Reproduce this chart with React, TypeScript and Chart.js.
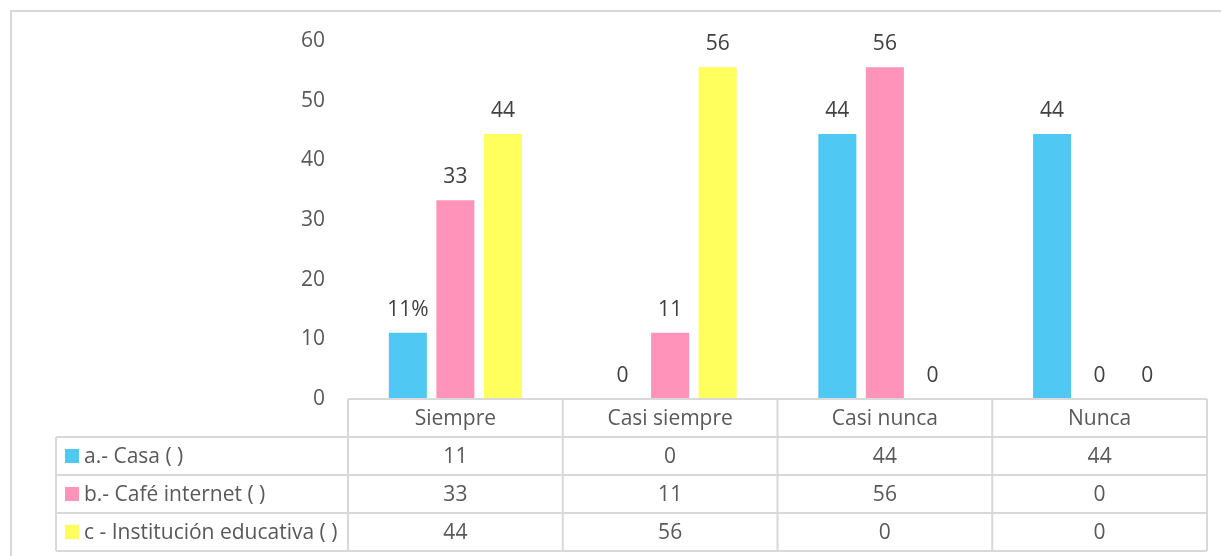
import React, { useEffect, useRef } from 'react';
import { Chart, registerables } from 'chart.js';

Chart.register(...registerables);

const categories = ['Siempre', 'Casi siempre', 'Casi nunca', 'Nunca'];
const seriesNames = ['a.- Casa ( )', 'b.- Café internet ( )', 'c - Institución educativa ( )'];
const casa = [11.1, 0, 44.4, 44.4];
const cafeInternet = [33.3, 11.1, 55.6, 0];
const institucion = [44.4, 55.6, 0, 0];
const seriesValues = [casa, cafeInternet, institucion];
const seriesColors = ['#4FC8F3', '#FF93B9', '#FFFF5E'];
const labelSuffixes = [
  ['%', '', '', ''],
  ['', '', '', ''],
  ['', '', '', ''],
];
const yMin = 0;
const yMax = 60;
const yStep = 10;

const FONT = "'Open Sans', sans-serif";
const FS = 21;
const GRID = '#D9D9D9';
const TEXT = '#595959';
const LABEL = '#404040';

const tablePlugin = {
  id: 'dataTable',
  beforeDraw(chart: any) {
    const { ctx, width, height } = chart;
    ctx.save();
    ctx.fillStyle = '#FFFFFF';
    ctx.fillRect(0, 0, width, height);
    ctx.strokeStyle = GRID;
    ctx.lineWidth = 2;
    ctx.beginPath();
    ctx.moveTo(11, height + 5);
    ctx.lineTo(11, 11);
    ctx.lineTo(width + 5, 11);
    ctx.stroke();
    ctx.restore();
  },
  afterDraw(chart: any) {
    const { ctx, chartArea } = chart;
    const left = chartArea.left;
    const right = chartArea.right;
    const top = chartArea.bottom;
    const rowH = 38;
    const labelLeft = 56;
    const n = categories.length;
    const colW = (right - left) / n;
    const tableBottom = top + rowH * (seriesNames.length + 1);
    const dy = Math.round(FS * 0.357);

    ctx.save();
    // data labels
    ctx.font = `${FS}px ${FONT}`;
    ctx.fillStyle = LABEL;
    ctx.textAlign = 'center';
    ctx.textBaseline = 'alphabetic';
    seriesValues.forEach((vals, i) => {
      const meta = chart.getDatasetMeta(i);
      meta.data.forEach((bar: any, j: number) => {
        const txt = Math.round(vals[j]) + labelSuffixes[i][j];
        ctx.fillText(txt, bar.x, bar.y - 24 + dy);
      });
    });

    // grid lines
    ctx.strokeStyle = GRID;
    ctx.lineWidth = 2;
    ctx.beginPath();
    ctx.moveTo(left, top);
    ctx.lineTo(right, top);
    for (let r = 1; r <= seriesNames.length + 1; r++) {
      const yy = top + r * rowH;
      ctx.moveTo(labelLeft, yy);
      ctx.lineTo(right, yy);
    }
    for (let c = 0; c <= n; c++) {
      const xx = left + c * colW;
      ctx.moveTo(xx, top);
      ctx.lineTo(xx, tableBottom);
    }
    ctx.moveTo(labelLeft, top + rowH);
    ctx.lineTo(labelLeft, tableBottom);
    ctx.stroke();

    // rows
    ctx.font = `${FS}px ${FONT}`;
    seriesNames.forEach((name, i) => {
      const cy = top + rowH * (i + 1) + rowH / 2;
      ctx.fillStyle = seriesColors[i];
      ctx.fillRect(65, cy - 7, 14, 14);
      ctx.fillStyle = TEXT;
      ctx.textAlign = 'left';
      ctx.fillText(name, 84, cy + dy);
      ctx.textAlign = 'center';
      seriesValues[i].forEach((v, j) => {
        ctx.fillText(String(Math.round(v)), left + colW * (j + 0.5), cy + dy);
      });
    });
    ctx.restore();
  },
};

export default function App() {
  const ref = useRef<HTMLCanvasElement>(null);
  useEffect(() => {
    if (!ref.current) return;
    const chart = new Chart(ref.current, {
      type: 'bar',
      data: {
        labels: categories,
        datasets: seriesNames.map((name, i) => ({
          label: name,
          data: seriesValues[i],
          backgroundColor: seriesColors[i],
          borderWidth: 0,
          categoryPercentage: 0.664,
          barPercentage: 0.8,
        })),
      },
      options: {
        responsive: false,
        animation: false,
        layout: { padding: { left: 0, right: 14, top: 41, bottom: 0 } },
        plugins: { legend: { display: false }, tooltip: { enabled: false } },
        scales: {
          x: {
            grid: { display: false, drawTicks: false },
            border: { display: false },
            ticks: {
              color: TEXT,
              font: { family: FONT, size: FS },
              padding: 7,
              maxRotation: 0,
              autoSkip: false,
            },
            afterFit(scale: any) {
              scale.height = 157;
            },
          },
          y: {
            min: yMin,
            max: yMax,
            grid: { display: false, drawTicks: false },
            border: { display: false },
            ticks: {
              stepSize: yStep,
              color: TEXT,
              font: { family: FONT, size: FS },
              padding: 23,
            },
            afterFit(scale: any) {
              scale.width = 348;
            },
          },
        },
      },
      plugins: [tablePlugin],
    });
    return () => chart.destroy();
  }, []);
  return (
    <div style={{ position: 'fixed', left: 0, top: 0, width: 1221, height: 556, background: '#fff' }}>
      <canvas ref={ref} width={1221} height={556} style={{ display: 'block' }} />
    </div>
  );
}
